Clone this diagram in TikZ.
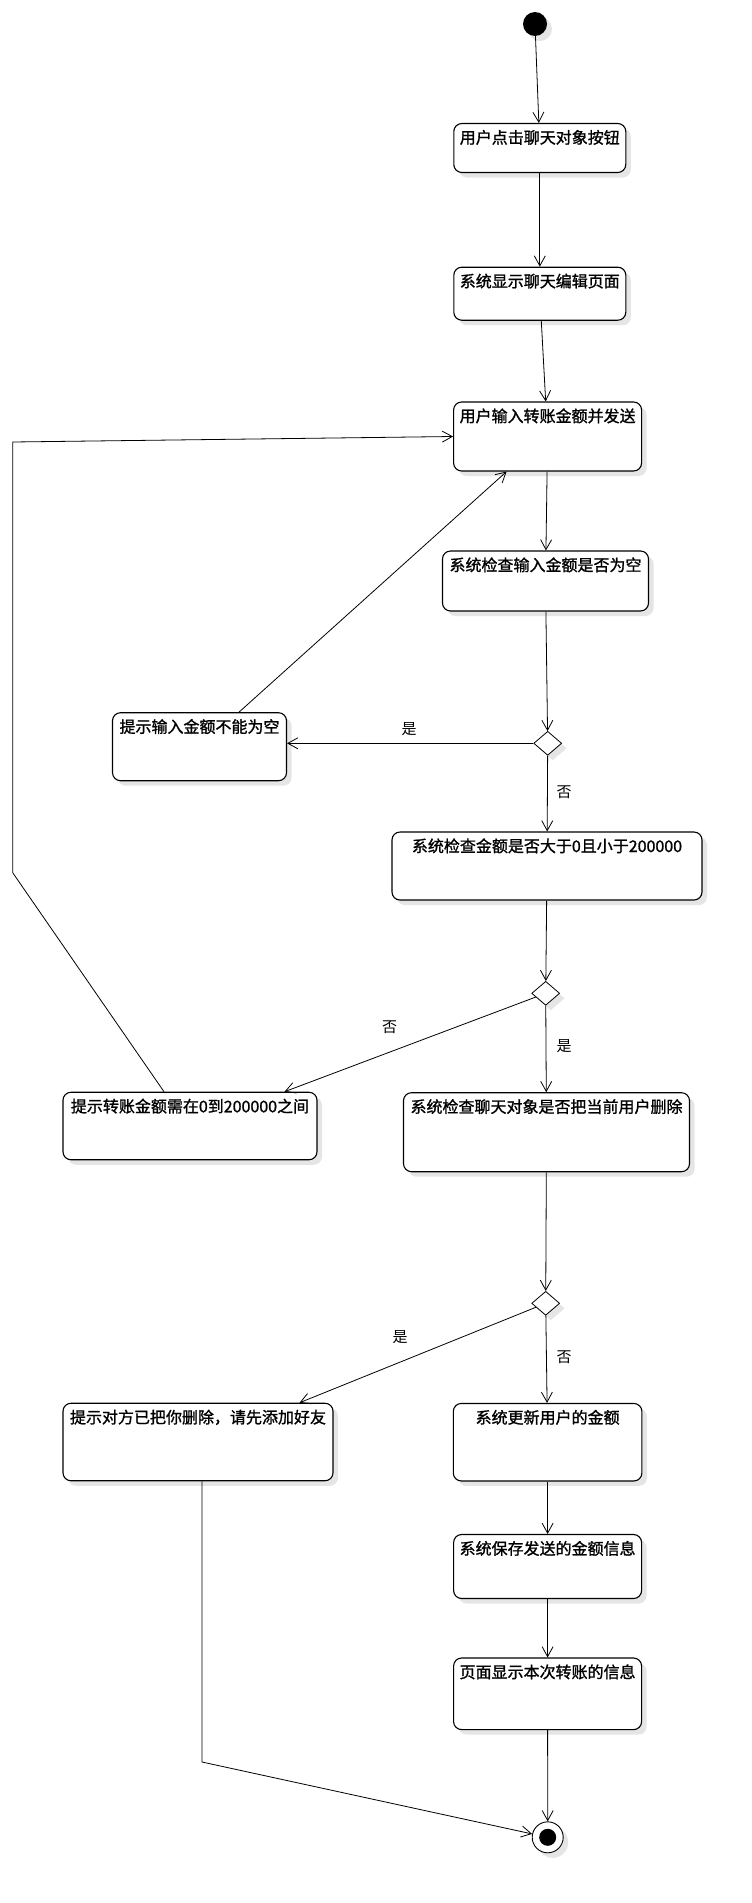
\documentclass[tikz,border=0pt]{standalone}
\usepackage{fontspec}
\newfontfamily\cjk{Noto Sans CJK SC}
\newfontfamily\cjkbox{Noto Sans CJK SC}[FakeBold=1.2]
\usetikzlibrary{arrows.meta,shapes.geometric,shadows}

\begin{document}
\begin{tikzpicture}[x=1pt, y=-1pt,
    every node/.style={font=\cjk},
    shade/.style={drop shadow={shadow xshift=5pt, shadow yshift=-5pt, fill=black!20, opacity=.5}},
    act/.style 2 args={rectangle, rounded corners=8pt, draw, line width=1.1pt, fill=white, shade,
        minimum width=#1pt, minimum height=#2pt, inner xsep=4pt, inner ysep=7pt,
        text height=13pt, text depth=#2pt-27pt, font=\cjkbox\fontsize{16}{19}\selectfont},
    decision/.style={diamond, draw, line width=.8pt, fill=white, shade,
        minimum width=28pt, minimum height=24pt, inner sep=0pt},
    startdot/.style={circle, fill=black, minimum size=24pt, inner sep=0pt, shade},
    enddot/.style={circle, draw, line width=.9pt, fill=white, minimum size=31pt, inner sep=0pt, shade,
        path picture={\fill[black] (path picture bounding box.center) circle (8.5pt);}},
    flow/.style={-{Straight Barb[length=10pt,width=11pt]}, line width=.8pt},
    guard/.style={inner sep=0pt, font=\cjk\fontsize{15}{18}\selectfont}]

    % Rahmen
    \useasboundingbox[fill=white] (0,0) rectangle (752,1903);

    % Start
    \node[startdot] (start) at (535,24) {};

    % Aktivitaeten
    \node[act={172}{49}] (b1) at (539.8,148) {用户点击聊天对象按钮};
    \node[act={172}{53}] (b2) at (539.8,293.7) {系统显示聊天编辑页面};
    \node[act={188}{69}] (b3) at (547.6,436.5) {用户输入转账金额并发送};
    \node[act={206}{60}] (b4) at (545.5,581) {系统检查输入金额是否为空};
    \node[act={174}{68}] (b5) at (199.5,746.7) {提示输入金额不能为空};
    \node[act={310}{68}] (b6) at (547,866) {系统检查金额是否大于0且小于200000};
    \node[act={254}{67.5}] (b7) at (190,1126) {提示转账金额需在0到200000之间};
    \node[act={286}{79}] (b8) at (546.5,1132.2) {系统检查聊天对象是否把当前用户删除};
    \node[act={270}{77.5}] (b9) at (198,1442) {提示对方已把你删除，请先添加好友};
    \node[act={188.6}{77.5}] (b10) at (547.6,1442.2) {系统更新用户的金额};
    \node[act={188}{64}] (b11) at (547.6,1566.5) {系统保存发送的金额信息};
    \node[act={188}{71.6}] (b12) at (547.6,1693.8) {页面显示本次转账的信息};

    % Verzweigungen
    \node[decision] (d1) at (547.7,743.3) {};
    \node[decision] (d2) at (545.7,993.3) {};
    \node[decision] (d3) at (545.7,1303.3) {};

    % Ende
    \node[enddot] (end) at (547.7,1837.3) {};

    % Knickpunkte
    \coordinate (k1) at (12.7,872.7);
    \coordinate (k2) at (12.7,442);
    \coordinate (k3) at (202,1762);

    % Pfeile
    \draw[flow] (start) -- (b1);
    \draw[flow] (b1) -- (b2);
    \draw[flow] (b2) -- (b3);
    \draw[flow] (b3) -- (b4);
    \draw[flow] (b4) -- (d1);
    \draw[flow] (d1.west) -- (d1.west -| b5.east);
    \draw[flow] (d1) -- (b6);
    \draw[flow] ([xshift=39.5pt]b5.north) -- ([xshift=-41pt]b3.south);
    \draw[flow] (b6) -- (d2);
    \draw[flow] (d2) -- ([xshift=-33pt]b7.north east);
    \draw[flow] (d2) -- (b8);
    \draw[flow] ([xshift=-26pt]b7.north) -- (k1) -- (k2) -- (b3.west);
    \draw[flow] (b8) -- (d3);
    \draw[flow] (d3) -- ([xshift=-34pt]b9.north east);
    \draw[flow] (d3) -- (b10);
    \draw[flow] (b10) -- (b11);
    \draw[flow] (b11) -- (b12);
    \draw[flow] (b12) -- (end);
    \draw[flow] ([xshift=4pt]b9.south) -- (k3) -- (end);

    % Bedingungen
    \node[guard] (g1) at (409,729) {是};
    \node[guard] (g2) at (564,792) {否};
    \node[guard] (g3) at (389.5,1027) {否};
    \node[guard] (g4) at (564,1046) {是};
    \node[guard] (g5) at (400,1337) {是};
    \node[guard] (g6) at (564,1357) {否};
\end{tikzpicture}
\end{document}
